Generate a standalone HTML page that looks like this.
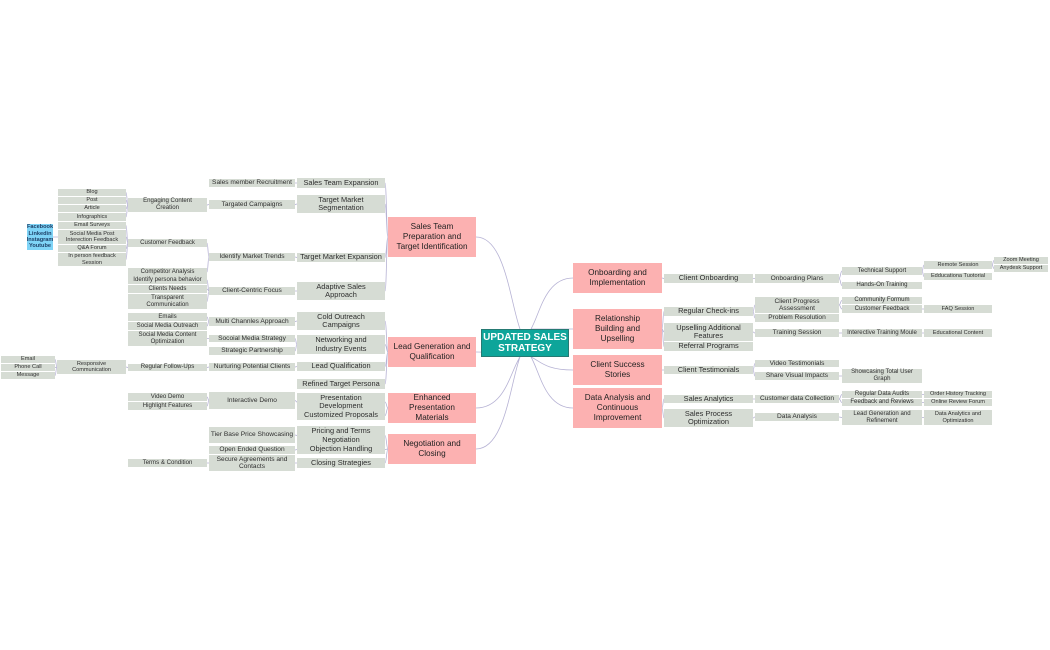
<!DOCTYPE html>
<html><head><meta charset="utf-8"><style>
body{margin:0;background:#fff;width:1050px;height:650px;position:relative;overflow:hidden;font-family:"Liberation Sans",sans-serif}
.b{position:absolute;display:flex;align-items:center;justify-content:center;text-align:center;background:#d6dcd4;color:#2e2e2e;line-height:1.1;box-sizing:border-box;white-space:nowrap}
.p{background:#fcb1b1;color:#222;font-size:8.2px;line-height:1.2}
.s2{font-size:7.4px}.s3{font-size:6.6px}.s4{font-size:6.1px}.s5{font-size:5.6px}
.c{background:#0ea59a;color:#fff;font-weight:bold;font-size:10px;border:1px solid #267a73}
.bl{background:#7fd4f7;color:#1d3f66;font-size:5.6px;line-height:1.15;font-weight:bold}
svg{position:absolute;left:0;top:0}
</style></head><body>
<svg id="sv" width="1050" height="650"></svg>

<div class="b c" id="c" style="left:481px;top:329px;width:88px;height:28px">UPDATED SALES<br>STRATEGY</div>

<div class="b p" id="L1" style="left:388px;top:217px;width:88px;height:40px">Sales Team<br>Preparation and<br>Target Identification</div>
<div class="b p" id="L2" style="left:388px;top:337px;width:88px;height:30px">Lead Generation and<br>Qualification</div>
<div class="b p" id="L3" style="left:388px;top:393px;width:88px;height:30px">Enhanced<br>Presentation<br>Materials</div>
<div class="b p" id="L4" style="left:388px;top:434px;width:88px;height:30px">Negotiation and<br>Closing</div>

<div class="b s2" id="s1a" style="left:297px;top:178px;width:88px;height:10px">Sales Team Expansion</div>
<div class="b s2" id="s1b" style="left:297px;top:195px;width:88px;height:18px">Target Market<br>Segmentation</div>
<div class="b s2" id="s1c" style="left:297px;top:253px;width:88px;height:9px">Target Market Expansion</div>
<div class="b s2" id="s1d" style="left:297px;top:282px;width:88px;height:18px">Adaptive Sales<br>Approach</div>
<div class="b s2" id="s2a" style="left:297px;top:312px;width:88px;height:18px">Cold Outreach<br>Campaigns</div>
<div class="b s2" id="s2b" style="left:297px;top:335px;width:88px;height:19px">Networking and<br>Industry Events</div>
<div class="b s2" id="s2c" style="left:297px;top:362px;width:88px;height:9px">Lead Qualification</div>
<div class="b s2" id="s2d" style="left:297px;top:379px;width:88px;height:10px">Refined Target Persona</div>
<div class="b s2" id="s3a" style="left:297px;top:393px;width:88px;height:18px">Presentation<br>Development</div>
<div class="b s2" id="s3b" style="left:297px;top:411px;width:88px;height:9px">Customized Proposals</div>
<div class="b s2" id="s4a" style="left:297px;top:426px;width:88px;height:19px">Pricing and Terms<br>Negotiation</div>
<div class="b s2" id="s4b" style="left:297px;top:445px;width:88px;height:9px">Objection Handling</div>
<div class="b s2" id="s4c" style="left:297px;top:458px;width:88px;height:10px">Closing Strategies</div>

<div class="b s3" id="t1" style="left:209px;top:179px;width:86px;height:8px">Sales member Recruitment</div>
<div class="b s3" id="t2" style="left:209px;top:200px;width:86px;height:9px">Targated Campaigns</div>
<div class="b s3" id="t3" style="left:209px;top:253px;width:86px;height:8px">Identify Market Trends</div>
<div class="b s3" id="t4" style="left:209px;top:287px;width:86px;height:8px">Client-Centric Focus</div>
<div class="b s3" id="t5" style="left:209px;top:317px;width:86px;height:9px">Multi Channles Approach</div>
<div class="b s3" id="t6" style="left:209px;top:335px;width:86px;height:7px">Socoial Media Strategy</div>
<div class="b s3" id="t7" style="left:209px;top:347px;width:86px;height:8px">Strategic Partnership</div>
<div class="b s3" id="t8" style="left:209px;top:363px;width:86px;height:8px">Nurturing Potential Clients</div>
<div class="b s3" id="t9" style="left:209px;top:392px;width:86px;height:17px">Interactive Demo</div>
<div class="b s3" id="t10" style="left:209px;top:427px;width:86px;height:16px">Tier Base Price Showcasing</div>
<div class="b s3" id="t11" style="left:209px;top:446px;width:86px;height:8px">Open Ended Question</div>
<div class="b s3" id="t12" style="left:209px;top:455px;width:86px;height:16px">Secure Agreements and<br>Contacts</div>

<div class="b s4" id="u1" style="left:128px;top:198px;width:79px;height:14px">Engaging Content<br>Creation</div>
<div class="b s4" id="u2" style="left:128px;top:239px;width:79px;height:8px">Customer Feedback</div>
<div class="b s4" id="u3" style="left:128px;top:268px;width:79px;height:8px">Competitor Analysis</div>
<div class="b s4" id="u4" style="left:128px;top:276px;width:79px;height:8px">Identify persona behavior</div>
<div class="b s4" id="u5" style="left:128px;top:285px;width:79px;height:8px">Clients Needs</div>
<div class="b s4" id="u6" style="left:128px;top:294px;width:79px;height:15px">Transparent<br>Communication</div>
<div class="b s4" id="u7" style="left:128px;top:313px;width:79px;height:8px">Emails</div>
<div class="b s4" id="u8" style="left:128px;top:322px;width:79px;height:8px">Social Media Outreach</div>
<div class="b s4" id="u9" style="left:128px;top:331px;width:79px;height:15px">Social Media Content<br>Optimization</div>
<div class="b s4" id="u10" style="left:128px;top:364px;width:79px;height:7px">Regular Follow-Ups</div>
<div class="b s4" id="u11" style="left:128px;top:393px;width:79px;height:8px">Video Demo</div>
<div class="b s4" id="u12" style="left:128px;top:402px;width:79px;height:8px">Highlight Features</div>
<div class="b s4" id="u13" style="left:128px;top:459px;width:79px;height:8px">Terms &amp; Condition</div>

<div class="b s5" id="v1" style="left:58px;top:189px;width:68px;height:7px">Blog</div>
<div class="b s5" id="v2" style="left:58px;top:197px;width:68px;height:7px">Post</div>
<div class="b s5" id="v3" style="left:58px;top:205px;width:68px;height:7px">Article</div>
<div class="b s5" id="v4" style="left:58px;top:213px;width:68px;height:8px">Infographics</div>
<div class="b s5" id="v5" style="left:58px;top:222px;width:68px;height:7px">Email Surveys</div>
<div class="b s5" id="v6" style="left:58px;top:230px;width:68px;height:14px">Social Media Post<br>Interection Feedback</div>
<div class="b s5" id="v7" style="left:58px;top:245px;width:68px;height:7px">Q&amp;A Forum</div>
<div class="b s5" id="v8" style="left:58px;top:253px;width:68px;height:13px">In person feedback<br>Session</div>
<div class="b s5" id="v9" style="left:57px;top:360px;width:69px;height:14px">Responsive<br>Communication</div>
<div class="b bl" id="bl" style="left:27px;top:224px;width:26px;height:26px">Facebook<br>Linkedin<br>Instagram<br>Youtube</div>
<div class="b s5" id="w1" style="left:1px;top:356px;width:54px;height:7px">Email</div>
<div class="b s5" id="w2" style="left:1px;top:364px;width:54px;height:7px">Phone Call</div>
<div class="b s5" id="w3" style="left:1px;top:372px;width:54px;height:7px">Message</div>

<div class="b p" id="R1" style="left:573px;top:263px;width:89px;height:30px">Onboarding and<br>Implementation</div>
<div class="b p" id="R2" style="left:573px;top:309px;width:89px;height:40px">Relationship<br>Building and<br>Upselling</div>
<div class="b p" id="R3" style="left:573px;top:355px;width:89px;height:30px">Client Success<br>Stories</div>
<div class="b p" id="R4" style="left:573px;top:388px;width:89px;height:40px">Data Analysis and<br>Continuous<br>Improvement</div>

<div class="b s2" id="r1a" style="left:664px;top:274px;width:89px;height:9px">Client Onboarding</div>
<div class="b s2" id="r1b" style="left:664px;top:307px;width:89px;height:9px">Regular Check-ins</div>
<div class="b s2" id="r1c" style="left:664px;top:323px;width:89px;height:18px">Upselling Additional<br>Features</div>
<div class="b s2" id="r1d" style="left:664px;top:342px;width:89px;height:9px">Referral Programs</div>
<div class="b s2" id="r1e" style="left:664px;top:366px;width:89px;height:8px">Client Testimonials</div>
<div class="b s2" id="r1f" style="left:664px;top:395px;width:89px;height:8px">Sales Analytics</div>
<div class="b s2" id="r1g" style="left:664px;top:409px;width:89px;height:18px">Sales Process<br>Optimization</div>

<div class="b s3" id="r2a" style="left:755px;top:274px;width:84px;height:9px">Onboarding Plans</div>
<div class="b s3" id="r2b" style="left:755px;top:297px;width:84px;height:16px">Client Progress<br>Assessment</div>
<div class="b s3" id="r2c" style="left:755px;top:314px;width:84px;height:8px">Problem Resolution</div>
<div class="b s3" id="r2d" style="left:755px;top:329px;width:84px;height:8px">Training Session</div>
<div class="b s3" id="r2e" style="left:755px;top:360px;width:84px;height:7px">Video Testimonials</div>
<div class="b s3" id="r2f" style="left:755px;top:372px;width:84px;height:8px">Share Visual Impacts</div>
<div class="b s3" id="r2g" style="left:755px;top:395px;width:84px;height:8px">Customer data Collection</div>
<div class="b s3" id="r2h" style="left:755px;top:413px;width:84px;height:8px">Data Analysis</div>

<div class="b s4" id="r3a" style="left:842px;top:267px;width:80px;height:8px">Technical Support</div>
<div class="b s4" id="r3b" style="left:842px;top:282px;width:80px;height:7px">Hands-On Training</div>
<div class="b s4" id="r3c" style="left:842px;top:297px;width:80px;height:7px">Community Formum</div>
<div class="b s4" id="r3d" style="left:842px;top:305px;width:80px;height:8px">Customer Feedback</div>
<div class="b s4" id="r3e" style="left:842px;top:329px;width:80px;height:8px">Interective Training Moule</div>
<div class="b s4" id="r3f" style="left:842px;top:369px;width:80px;height:14px">Showcasing Total User<br>Graph</div>
<div class="b s4" id="r3g" style="left:842px;top:391px;width:80px;height:7px">Regular Data Audits</div>
<div class="b s4" id="r3h" style="left:842px;top:399px;width:80px;height:7px">Feedback and Reviews</div>
<div class="b s4" id="r3i" style="left:842px;top:410px;width:80px;height:15px">Lead Generation and<br>Refinement</div>

<div class="b s5" id="r4a" style="left:924px;top:261px;width:68px;height:8px">Remote Session</div>
<div class="b s5" id="r4b" style="left:924px;top:273px;width:68px;height:7px">Edducationa Tuotorial</div>
<div class="b s5" id="r4c" style="left:924px;top:305px;width:68px;height:8px">FAQ Session</div>
<div class="b s5" id="r4d" style="left:924px;top:329px;width:68px;height:8px">Educational Content</div>
<div class="b s5" id="r4e" style="left:924px;top:391px;width:68px;height:7px">Order History Tracking</div>
<div class="b s5" id="r4f" style="left:924px;top:399px;width:68px;height:7px">Online Review Forum</div>
<div class="b s5" id="r4g" style="left:924px;top:410px;width:68px;height:15px">Data Analytics and<br>Optimization</div>
<div class="b s5" id="r5a" style="left:994px;top:257px;width:54px;height:7px">Zoom Meeting</div>
<div class="b s5" id="r5b" style="left:994px;top:265px;width:54px;height:7px">Anydesk Support</div>

<script>
(function(){
var L=[["L1","s1a"],["L1","s1b"],["L1","s1c"],["L1","s1d"],["s1a","t1"],["s1b","t2"],["t2","u1"],["u1","v1"],["u1","v2"],["u1","v3"],["u1","v4"],["s1c","t3"],["t3","u2"],["t3","u3"],["u2","v5"],["u2","v6"],["u2","v7"],["u2","v8"],["v6","bl"],["s1d","t4"],["t4","u4"],["t4","u5"],["t4","u6"],
["L2","s2a"],["L2","s2b"],["L2","s2c"],["L2","s2d"],["s2a","t5"],["t5","u7"],["t5","u8"],["s2b","t6"],["s2b","t7"],["t6","u9"],["s2c","t8"],["t8","u10"],["u10","v9"],["v9","w1"],["v9","w2"],["v9","w3"],
["L3","s3a"],["L3","s3b"],["s3a","t9"],["t9","u11"],["t9","u12"],["L4","s4a"],["L4","s4b"],["L4","s4c"],["s4a","t10"],["s4b","t11"],["s4c","t12"],["t12","u13"]];
var R=[["R1","r1a"],["r1a","r2a"],["r2a","r3a"],["r2a","r3b"],["r3a","r4a"],["r3a","r4b"],["r4a","r5a"],["r4a","r5b"],["R2","r1b"],["R2","r1c"],["R2","r1d"],["r1b","r2b"],["r1b","r2c"],["r2b","r3c"],["r2b","r3d"],["r3d","r4c"],["r1c","r2d"],["r2d","r3e"],["r3e","r4d"],["R3","r1e"],["r1e","r2e"],["r1e","r2f"],["r2f","r3f"],["R4","r1f"],["R4","r1g"],["r1f","r2g"],["r2g","r3g"],["r2g","r3h"],["r3g","r4e"],["r3h","r4f"],["r1g","r2h"],["r2h","r3i"],["r3i","r4g"]];
function g(id){var e=document.getElementById(id);return{l:e.offsetLeft,t:e.offsetTop,w:e.offsetWidth,h:e.offsetHeight};}
var d="";
L.forEach(function(p){var a=g(p[0]),b=g(p[1]);var x1=a.l,y1=a.t+a.h/2,x2=b.l+b.w,y2=b.t+b.h/2,m=(x1+x2)/2;d+="M"+x1+" "+y1+"C"+m+" "+y1+" "+m+" "+y2+" "+x2+" "+y2;});
R.forEach(function(p){var a=g(p[0]),b=g(p[1]);var x1=a.l+a.w,y1=a.t+a.h/2,x2=b.l,y2=b.t+b.h/2,m=(x1+x2)/2;d+="M"+x1+" "+y1+"C"+m+" "+y1+" "+m+" "+y2+" "+x2+" "+y2;});
["L1","L2","L3","L4"].forEach(function(k){var b=g(k);var y2=b.t+b.h/2,x2=b.l+b.w;var y1=y2<343?329:357;d+="M520 "+y1+"C510 "+(y1+(y2-y1)*0.3)+" 505 "+y2+" "+x2+" "+y2;});
["R1","R2","R3","R4"].forEach(function(k){var b=g(k);var y2=b.t+b.h/2,x2=b.l;var y1=y2<343?329:357;d+="M531 "+y1+"C540 "+(y1+(y2-y1)*0.3)+" 545 "+y2+" "+x2+" "+y2;});
document.getElementById("sv").innerHTML='<path d="'+d+'" fill="none" stroke="#b6b2d4" stroke-width="0.8"/>';
})();
</script>
</body></html>
